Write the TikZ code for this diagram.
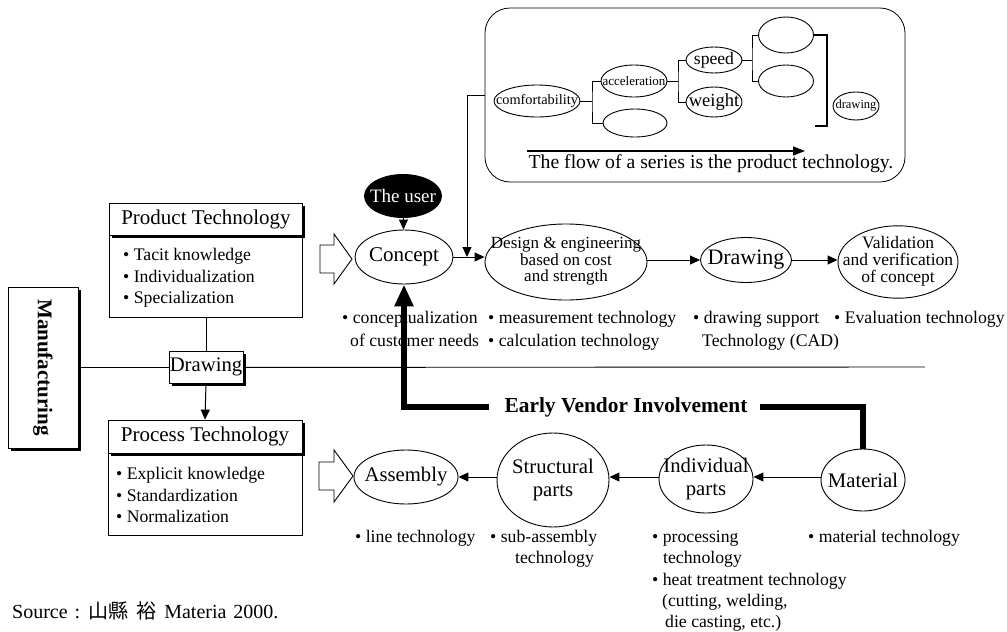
\documentclass[tikz,border=0pt]{standalone}
\usepackage{fontspec}
\setmainfont{Liberation Serif}
\newfontfamily\cjk{Noto Sans CJK JP}
\usetikzlibrary{shapes.geometric,arrows.meta,shadows}
\newcommand\fA{\fontsize{21}{23}\selectfont}
\newcommand\fAb{\fontsize{20.7}{23}\selectfont}
\newcommand\fB{\fontsize{17.7}{21.5}\selectfont}
\newcommand\zw[1]{\makebox[0pt]{#1}}
\newcommand\zwl[1]{\makebox[0pt]{\begin{tabular}{@{}c@{}}#1\end{tabular}}}
\begin{document}
\begin{tikzpicture}[x=1pt,y=-1pt,
  ell/.style={draw, ellipse, inner sep=0pt, line width=0.9pt},
  thin/.style={line width=0.9pt},
  arr/.style={line width=1pt, -{Triangle[length=10pt,width=9pt]}},
  sbox/.style={draw, fill=white, line width=0.8pt, inner sep=0pt,
    general shadow={fill=black, shadow xshift=2.5pt, shadow yshift=-2.5pt}},
  pbox/.style={draw, fill=white, line width=0.8pt, inner sep=0pt},
  lbl/.style={inner sep=0pt, anchor=base west, font=\fB},
  hollow/.style={draw, fill=white, line width=0.9pt, line join=miter},
]
\useasboundingbox (0,0) rectangle (1007,632);

% ---------- top rounded box ----------
\node[draw, rounded corners=25, minimum width=420, minimum height=174, line width=0.8pt] (topbox) at (695,95) {};
\node[ell, minimum width=86, minimum height=32, font=\fontsize{14.3}{15}\selectfont] (comf) at (537,101) {\zw{comfortability}};
\node[ell, minimum width=66, minimum height=32, font=\fontsize{13}{14}\selectfont] (acc) at (634,81) {\zw{acceleration}};
\node[ell, minimum width=64, minimum height=28] (e1) at (635,123) {};
\node[ell, minimum width=56, minimum height=26, font=\fontsize{17.6}{18}\selectfont] (speed) at (714,60) {\zw{speed}};
\node[ell, minimum width=56, minimum height=30, font=\fontsize{18.5}{19}\selectfont] (weight) at (714,102) {\zw{weight}};
\node[ell, minimum width=55, minimum height=36] (e3) at (786,35) {};
\node[ell, minimum width=55, minimum height=32] (e4) at (786,81) {};
\node[ell, minimum width=46, minimum height=28, font=\fontsize{12.5}{13}\selectfont] (sdraw) at (856,106) {\zw{drawing}};
\coordinate (b1) at (592,101);
\coordinate (b2) at (678,81);
\coordinate (b3) at (752,60);
\coordinate (rb1) at (827,126);
\coordinate (rb2) at (815,126);
\draw[thin] (comf.east) -- (b1);
\draw[thin] (acc.west) -| (b1) |- (e1.west);
\draw[thin] (acc.east) -- (b2);
\draw[thin] (speed.west) -| (b2) |- (weight.west);
\draw[thin] (speed.east) -- (b3);
\draw[thin] (e3.west) -| (b3) |- (e4.west);
\draw[line width=1.1pt] (e3.east) -| (rb1) -- (rb2);
\coordinate (fa) at (527,151);
\coordinate (fb) at (805,151);
\draw[line width=1.5pt, -{Triangle[length=12pt,width=9pt]}] (fa) -- (fb);
\node[inner sep=0pt, anchor=base, font=\fontsize{19.7}{20}\selectfont] (flow) at (711,168) {The flow of a series is the product technology.};

% ---------- upper process row ----------
\node[ell, minimum width=98, minimum height=54, font=\fA] (concept) at (404,257) {\zw{Concept}};
\node[ell, fill=black, text=white, minimum width=77, minimum height=43, font=\fontsize{19}{20}\selectfont] (user) at (403,196) {\zw{The user}};
\node[ell, minimum width=162, minimum height=76, font=\fontsize{17}{15.5}\selectfont] (design) at (566,262) {\zwl{Design \& engineering\\based on cost\\and strength}};
\node[ell, minimum width=91, minimum height=45, font=\fontsize{22}{23}\selectfont] (draw2) at (746,260) {\zw{Drawing}};
\node[ell, minimum width=120, minimum height=70, font=\fontsize{17.5}{16}\selectfont] (valid) at (898,262) {\zwl{Validation\\and verification\\of concept}};
\coordinate (cdj) at (467,257);
\draw[arr] (user) -- (concept);
\draw[arr] (concept.east) -- (concept.east -| design.west);
\draw[thin, -{Triangle[length=10pt,width=9pt]}] (topbox.west) -| (cdj);
\draw[arr] (draw2.west -| design.east) -- (draw2.west);
\draw[arr] (draw2.east) -- (draw2.east -| valid.west);

\node[lbl] (c1) at (342,323) {• conceptualization};
\node[lbl] (c2) at (350,346) {of customer needs};
\node[lbl] (d1) at (488,323) {• measurement technology};
\node[lbl] (d2) at (488,346) {• calculation technology};
\node[lbl] (w1) at (693,323) {• drawing support};
\node[lbl] (w2) at (702,346) {Technology (CAD)};
\node[lbl] (v1) at (834,323) {• Evaluation technology};

% ---------- left boxes ----------
\node[sbox, minimum width=70, minimum height=161] (manu) at (43,367.5) {};
\node[rotate=-90, inner sep=0pt, font=\fontsize{21}{22}\selectfont\bfseries] (manut) at (43,367.5) {Manufacturing};
\coordinate (hl) at (925,367);
\draw[thin] (manu.east) -- (hl);

\node[pbox, minimum width=193, minimum height=82] (pbody) at (206,276) {};
\node[sbox, minimum width=193, minimum height=32, font=\fA] (ptitle) at (206,219) {Product Technology};
\node[lbl] (p1) at (123,260) {• Tacit knowledge};
\node[lbl] (p2) at (123,282) {• Individualization};
\node[lbl] (p3) at (123,303) {• Specialization};

\node[sbox, minimum width=74, minimum height=32, font=\fontsize{20.7}{22}\selectfont] (dbox) at (206,367) {Drawing};
\draw[thin] (pbody.south) -- (dbox.north);

\node[pbox, minimum width=194, minimum height=82] (qbody) at (205,494) {};
\node[sbox, minimum width=194, minimum height=33, font=\fA] (qtitle) at (205,436.5) {Process Technology};
\node[lbl] (q1) at (116,479) {• Explicit knowledge};
\node[lbl] (q2) at (116,501) {• Standardization};
\node[lbl] (q3) at (116,522) {• Normalization};
\draw[arr] (dbox.south) -- (qtitle.north);

% hollow arrows
\draw[hollow] (320,245) -- (334,245) -- (334,234) -- (352,259) -- (334,284) -- (334,273) -- (320,273) -- cycle;
\draw[hollow] (319,462) -- (334,462) -- (334,450) -- (353,476) -- (334,502) -- (334,490) -- (319,490) -- cycle;

% ---------- lower process row ----------
\node[ell, minimum width=104, minimum height=54, font=\fAb] (asm) at (406,477) {\zw{Assembly}};
\node[ell, minimum width=112, minimum height=94, font=\fAb] (struct) at (553,480) {\zwl{Structural\\parts}};
\node[ell, minimum width=94, minimum height=68, font=\fAb] (indiv) at (706,479) {\zwl{Individual\\parts}};
\node[ell, minimum width=84, minimum height=62, font=\fAb] (mat) at (863,480) {\zw{Material}};
\draw[arr] (struct.west |- asm.east) -- (asm.east);
\draw[arr] (indiv.west |- asm.east) -- (asm.east -| struct.east);
\draw[arr] (mat.west |- asm.east) -- (asm.east -| indiv.east);

\node[lbl] (l1) at (355,542) {• line technology};
\node[lbl] (s1) at (490,542) {• sub-assembly};
\node[lbl] (s2) at (515,563) {technology};
\node[lbl] (i1) at (652,542) {• processing};
\node[lbl] (i2) at (663,563) {technology};
\node[lbl] (i3) at (652,585) {• heat treatment technology};
\node[lbl] (i4) at (662,606) {(cutting, welding,};
\node[lbl] (i5) at (665,627) {die casting, etc.)};
\node[lbl] (m1) at (808,542) {• material technology};

% ---------- early vendor involvement ----------
\node[inner sep=0pt, font=\fontsize{21.4}{22}\selectfont\bfseries] (evi) at (626,407) {Early Vendor Involvement};
\coordinate (evl) at (489,407);
\coordinate (evr) at (760,407);
\draw[line width=5.5pt, line join=miter, -{Triangle[length=22pt,width=18pt]}] (evl) -| (concept.south);
\draw[line width=5.5pt, line join=miter] (evr) -| (mat.north);

% source
\node[inner sep=0pt, anchor=base west, font=\fontsize{20}{22}\selectfont] (src) at (12,618) {Source\hspace{7pt}:\hspace{8pt}{\cjk 山縣}\hspace{8pt}{\cjk 裕}\hspace{8pt}Materia\hspace{7pt}2000.};
\end{tikzpicture}
\end{document}
